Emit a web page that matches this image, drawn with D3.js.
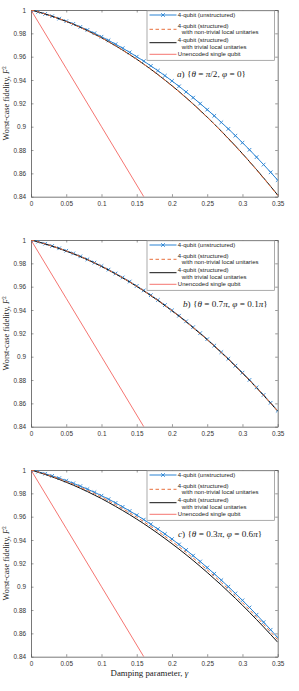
<!DOCTYPE html>
<html><head><meta charset="utf-8">
<script src="https://cdn.jsdelivr.net/npm/d3@7"></script>
<style>body{margin:0;background:#fff}svg{display:block}</style>
</head><body>
<script>
// ---------- data ----------
const gamma = [0,0.01,0.02,0.03,0.04,0.05,0.06,0.07,0.08,0.09,0.10,0.11,0.12,0.13,0.14,0.15,0.16,0.17,0.18,0.19,0.20,0.21,0.22,0.23,0.24,0.25,0.26,0.27,0.28,0.29,0.30,0.31,0.32,0.33,0.34,0.35];
const xTicks = [0,0.05,0.1,0.15,0.2,0.25,0.3,0.35];
const yTicks = [0.84,0.86,0.88,0.9,0.92,0.94,0.96,0.98,1];
const xTickLabels = ["0","0.05","0.1","0.15","0.2","0.25","0.3","0.35"];
const yTickLabels = ["0.84","0.86","0.88","0.9","0.92","0.94","0.96","0.98","1"];

// panel a
const unstructA = [1,.9984,.9966,.9947,.9926,.9904,.9881,.9855,.9829,.9801,.9771,.9740,.9707,.9673,.9637,.9600,.9562,.9521,.9480,.9437,.9392,.9346,.9298,.9249,.9198,.9146,.9093,.9037,.8981,.8923,.8863,.8802,.8739,.8675,.8609,.8542];
const nontrivA = [1,.9984,.9966,.9946,.9925,.9902,.9878,.9851,.9823,.9793,.9762,.9728,.9693,.9656,.9617,.9577,.9535,.9491,.9446,.9399,.9350,.9299,.9247,.9193,.9137,.9080,.9021,.8959,.8896,.8832,.8766,.8698,.8629,.8558,.8485,.8410];
const trivialA = [1,.9984,.9966,.9946,.9925,.9902,.9878,.9851,.9823,.9793,.9762,.9728,.9693,.9656,.9618,.9578,.9536,.9492,.9447,.9400,.9351,.9301,.9249,.9195,.9139,.9082,.9023,.8962,.8899,.8835,.8769,.8701,.8632,.8561,.8488,.8414];
// panel b
const unstructB = [1,.9985,.9968,.9949,.9929,.9908,.9885,.9860,.9834,.9806,.9777,.9746,.9713,.9679,.9644,.9606,.9568,.9527,.9486,.9442,.9397,.9351,.9303,.9253,.9202,.9150,.9095,.9039,.8982,.8923,.8863,.8801,.8737,.8672,.8605,.8537];
const nontrivB = [1,.9984,.9967,.9948,.9928,.9907,.9884,.9859,.9833,.9805,.9775,.9744,.9711,.9677,.9642,.9604,.9566,.9525,.9484,.9440,.9395,.9349,.9301,.9251,.9200,.9148,.9093,.9037,.8980,.8921,.8861,.8799,.8735,.8670,.8603,.8535];
const trivialB = [1,.9984,.9966,.9947,.9927,.9905,.9882,.9857,.9831,.9803,.9773,.9742,.9709,.9675,.9640,.9602,.9564,.9523,.9482,.9438,.9393,.9347,.9299,.9249,.9198,.9146,.9091,.9035,.8978,.8919,.8859,.8797,.8733,.8668,.8601,.8533];
// panel c
const unstructC = [1,.9985,.9968,.9950,.9930,.9909,.9886,.9862,.9836,.9809,.9780,.9750,.9718,.9684,.9649,.9613,.9575,.9535,.9494,.9452,.9408,.9362,.9315,.9266,.9216,.9164,.9111,.9056,.9000,.8942,.8883,.8822,.8760,.8696,.8631,.8564];
const nontrivC = [1,.9983,.9965,.9945,.9924,.9902,.9878,.9852,.9825,.9797,.9767,.9736,.9703,.9669,.9633,.9596,.9557,.9517,.9475,.9432,.9388,.9342,.9295,.9246,.9196,.9144,.9091,.9036,.8980,.8922,.8863,.8802,.8740,.8677,.8612,.8546];
const trivialC = [1,.9982,.9962,.9941,.9919,.9895,.9870,.9843,.9815,.9785,.9755,.9722,.9688,.9653,.9617,.9579,.9540,.9499,.9457,.9413,.9368,.9322,.9274,.9225,.9174,.9122,.9068,.9014,.8957,.8900,.8841,.8780,.8718,.8655,.8590,.8524];
// unencoded single qubit (same in all panels)
const gammaUnenc = [0,0.05,0.10,0.15,0.16];
const unencoded = [1,0.95,0.90,0.85,0.84];

const legendLabels = [["4-qubit (unstructured)"],["4-qubit (structured)","with non-trivial local unitaries"],["4-qubit (structured)","with trivial local unitaries"],["Unencoded single qubit"]];
const panelTags = ["a","b","c"];
const thetaLabels = ["π/2","0.7π","0.3π"];
const phiLabels = ["0","0.1π","0.6π"];

const panels = [
  {top:10, unstruct:unstructA, nontriv:nontrivA, trivial:trivialA, annX:177},
  {top:240, unstruct:unstructB, nontriv:nontrivB, trivial:trivialB, annX:183},
  {top:470, unstruct:unstructC, nontriv:nontrivC, trivial:trivialC, annX:178}
];

// ---------- drawing ----------
const W=299,H=691, L=31, R=277.7, PH=186.7;
const BLUE="#2a83d3", ORANGE="#e8703e", UNRED="#f2524d", AX="#555";
const svg=d3.select("body").append("svg").attr("width",W).attr("height",H);
const x=d3.scaleLinear().domain([0,0.35]).range([L,R]);

function mathParts(t, s){
  const parts=s.split("π");
  parts.forEach((pt,k)=>{
    if(k>0) t.append("tspan").attr("font-style","italic").text("π");
    if(pt) t.append("tspan").text(pt);
  });
}

panels.forEach((p,i)=>{
  const y=d3.scaleLinear().domain([0.84,1]).range([p.top+PH,p.top]);
  const g=svg.append("g");
  const cid="clip"+i;
  svg.append("clipPath").attr("id",cid).append("rect").attr("x",L).attr("y",p.top).attr("width",R-L).attr("height",PH);

  const fmtX=(d,k)=>xTickLabels[k], fmtY=(d,k)=>yTickLabels[k];
  const bx=g.append("g").attr("transform",`translate(0,${p.top+PH})`).call(d3.axisBottom(x).tickValues(xTicks).tickFormat(fmtX).tickSizeInner(-2.5).tickSizeOuter(0).tickPadding(5));
  const tx=g.append("g").attr("transform",`translate(0,${p.top})`).call(d3.axisTop(x).tickValues(xTicks).tickFormat("").tickSizeInner(-2.5).tickSizeOuter(0));
  const ly=g.append("g").attr("transform",`translate(${L},0)`).call(d3.axisLeft(y).tickValues(yTicks).tickFormat(fmtY).tickSizeInner(-2.5).tickSizeOuter(0).tickPadding(5));
  const ry=g.append("g").attr("transform",`translate(${R},0)`).call(d3.axisRight(y).tickValues(yTicks).tickFormat("").tickSizeInner(-2.5).tickSizeOuter(0));
  [bx,tx,ly,ry].forEach(a=>{
    a.select(".domain").attr("stroke",AX).attr("stroke-width",0.8);
    a.selectAll(".tick line").attr("stroke",AX).attr("stroke-width",0.6);
    a.selectAll("text").attr("font-family","Liberation Sans, Arial, sans-serif").attr("font-size",6.4).attr("fill","#333");
  });

  const line=(ys,xs=gamma)=>d3.line().x((d,k)=>x(xs[k])).y(d=>y(d))(ys);
  const plot=g.append("g").attr("clip-path",`url(#${cid})`);
  plot.append("path").attr("d",line(unencoded,gammaUnenc)).attr("fill","none").attr("stroke",UNRED).attr("stroke-width",0.8);
  plot.append("path").attr("d",line(p.unstruct)).attr("fill","none").attr("stroke",BLUE).attr("stroke-width",1);
  const s=1.8;
  plot.selectAll(".mk").data(p.unstruct).enter().append("path")
    .attr("d",(d,k)=>{const cx=x(gamma[k]),cy=y(d);return `M${cx-s},${cy-s}L${cx+s},${cy+s}M${cx-s},${cy+s}L${cx+s},${cy-s}`;})
    .attr("stroke",BLUE).attr("stroke-width",0.9);
  plot.append("path").attr("d",line(p.trivial)).attr("fill","none").attr("stroke","#111").attr("stroke-width",1);
  plot.append("path").attr("d",line(p.nontriv)).attr("fill","none").attr("stroke",ORANGE).attr("stroke-width",1).attr("stroke-dasharray","3.5,2.5");

  // legend
  const lg=g.append("g").attr("transform",`translate(147,${p.top})`);
  lg.append("rect").attr("x",0).attr("y",0.8).attr("width",127.5).attr("height",49.5).attr("fill","#fff").attr("stroke","#888").attr("stroke-width",0.7);
  const ent=[{y:5,ty:[5],c:BLUE,dash:null,mk:true},{y:19.3,ty:[16,21.9],c:ORANGE,dash:"3.5,2.5"},{y:32.7,ty:[30,36.7],c:"#111",dash:null},{y:44.3,ty:[44.3],c:UNRED,dash:null,w:0.8}];
  ent.forEach((e,k)=>{
    lg.append("line").attr("x1",2.5).attr("x2",29.5).attr("y1",e.y).attr("y2",e.y).attr("stroke",e.c).attr("stroke-width",e.w||1).attr("stroke-dasharray",e.dash);
    if(e.mk){const cx=16,cy=e.y;lg.append("path").attr("d",`M${cx-s},${cy-s}L${cx+s},${cy+s}M${cx-s},${cy+s}L${cx+s},${cy-s}`).attr("stroke",BLUE).attr("stroke-width",0.9);}
    legendLabels[k].forEach((t,j)=>{
      lg.append("text").attr("x",j===0?30.8:34.8).attr("y",e.ty[j]).attr("dy","0.35em").attr("font-family","Liberation Sans, Arial, sans-serif").attr("font-size",6).attr("fill","#222").text(t);
    });
  });

  // annotation
  const an=g.append("text").attr("x",p.annX).attr("y",p.top+64).attr("dy","0.35em").attr("font-family","Liberation Serif, Times New Roman, serif").attr("font-size",9.2).attr("fill","#222");
  an.append("tspan").attr("font-style","italic").text(panelTags[i]);
  an.append("tspan").text(") {");
  an.append("tspan").attr("font-style","italic").text("θ");
  an.append("tspan").text(" = ");
  mathParts(an, thetaLabels[i]);
  an.append("tspan").text(", ");
  an.append("tspan").attr("font-style","italic").text("φ");
  an.append("tspan").text(" = ");
  mathParts(an, phiLabels[i]);
  an.append("tspan").text("}");

  // y label
  const yl=g.append("text").attr("transform",`translate(6,${p.top+PH/2}) rotate(-90)`).attr("text-anchor","middle").attr("dy","0.35em")
    .attr("font-family","Liberation Serif, Times New Roman, serif").attr("font-size",8.3).attr("fill","#222");
  yl.append("tspan").text("Worst-case fidelity, ");
  yl.append("tspan").attr("font-style","italic").text("F");
  yl.append("tspan").attr("font-size",5.5).attr("dy","-0.6em").text("2");
});

// x label
const xl=svg.append("text").attr("x",(L+R)/2-5).attr("y",673).attr("dy","0.35em").attr("text-anchor","middle")
  .attr("font-family","Liberation Serif, Times New Roman, serif").attr("font-size",8.8).attr("fill","#222");
xl.append("tspan").text("Damping parameter, ");
xl.append("tspan").attr("font-style","italic").text("γ");
</script>
</body></html>
